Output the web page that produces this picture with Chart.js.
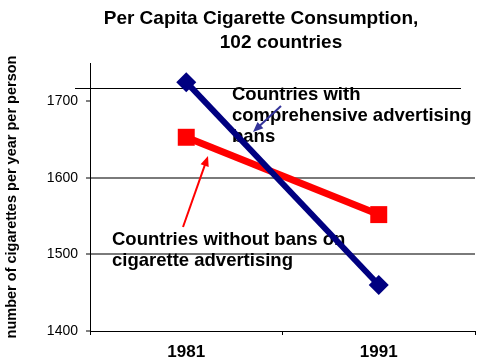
<!DOCTYPE html>
<html>
<head>
<meta charset="utf-8">
<script src="https://cdn.jsdelivr.net/npm/chart.js@4.4.0/dist/chart.umd.min.js"></script>
<style>
  html, body { margin: 0; padding: 0; background: #fff; }
  #wrap { width: 480px; height: 364px; }
</style>
</head>
<body>
<div id="wrap"><canvas id="chart"></canvas></div>
<script>
const years = ["1981", "1991"];
const withBans = [1725, 1460];
const withoutBans = [1653, 1552];
const yTicks = [1400, 1500, 1600, 1700];
const gridValues = [1500, 1600];
const strayLineValue = 1718;

const titleLines = ["Per Capita Cigarette Consumption,", "102 countries"];
const yTitle = "number of cigarettes per year per person";
const bansLabel = ["Countries with", "comprehensive advertising", "bans"];
const noBansLabel = ["Countries without bans on", "cigarette advertising"];

Chart.defaults.font.family = "'Liberation Sans', Arial, sans-serif";
Chart.defaults.color = "#000";

function arrow(ctx, x1, y1, x2, y2, color) {
  const a = Math.atan2(y2 - y1, x2 - x1);
  const head = 11;
  ctx.strokeStyle = color;
  ctx.fillStyle = color;
  ctx.lineWidth = 2;
  ctx.beginPath();
  ctx.moveTo(x1, y1);
  ctx.lineTo(x2 - Math.cos(a) * head * 0.8, y2 - Math.sin(a) * head * 0.8);
  ctx.stroke();
  ctx.beginPath();
  ctx.moveTo(x2, y2);
  ctx.lineTo(x2 - head * Math.cos(a - 0.4), y2 - head * Math.sin(a - 0.4));
  ctx.lineTo(x2 - head * Math.cos(a + 0.4), y2 - head * Math.sin(a + 0.4));
  ctx.closePath();
  ctx.fill();
}

// title, stray line, labels and arrows (under the lines)
const extras = {
  id: "extras",
  beforeDatasetsDraw(chart) {
    const ctx = chart.ctx;
    const area = chart.chartArea;
    const y = chart.scales.y;
    ctx.save();

    ctx.textAlign = "center";
    ctx.textBaseline = "alphabetic";
    ctx.font = "bold 19px 'Liberation Sans', Arial, sans-serif";
    ctx.fillText(titleLines[0], 261, 24);
    ctx.fillText(titleLines[1], 281, 48);

    const sy = Math.round(y.getPixelForValue(strayLineValue)) + 0.5;
    ctx.strokeStyle = "#000";
    ctx.lineWidth = 1;
    ctx.beginPath();
    ctx.moveTo(area.left - 15, sy);
    ctx.lineTo(area.right - 14, sy);
    ctx.stroke();

    ctx.textAlign = "left";
    ctx.font = "bold 18.5px 'Liberation Sans', Arial, sans-serif";
    bansLabel.forEach((t, i) => ctx.fillText(t, 232, 100 + i * 21));
    noBansLabel.forEach((t, i) => ctx.fillText(t, 112, 245 + i * 21));

    arrow(ctx, 281, 106, 253, 132, "#333399");
    arrow(ctx, 183, 227, 208, 156, "#ff0000");
    ctx.restore();
  },
};

new Chart("chart", {
  type: "line",
  data: {
    labels: years,
    datasets: [
      {
        label: "With bans",
        data: withBans,
        borderColor: "#000080",
        backgroundColor: "#000080",
        borderWidth: 6,
        pointStyle: "rectRot",
        pointRadius: 10,
        pointBorderWidth: 0,
      },
      {
        label: "Without bans",
        data: withoutBans,
        borderColor: "#ff0000",
        backgroundColor: "#ff0000",
        borderWidth: 7,
        pointStyle: "rect",
        pointRadius: 12,
        pointBorderWidth: 0,
      },
    ],
  },
  options: {
    responsive: true,
    maintainAspectRatio: false,
    animation: false,
    layout: { autoPadding: false, padding: { top: 63, right: 5, left: 0, bottom: 0 } },
    plugins: {
      legend: { display: false },
      tooltip: { enabled: false },
    },
    scales: {
      x: {
        offset: true,
        grid: {
          offset: true,
          drawOnChartArea: false,
          tickLength: 4,
          tickColor: "#000",
        },
        border: { color: "#000", width: 1 },
        ticks: { padding: 0, font: { size: 17, weight: "bold", lineHeight: 2 } },
        afterFit(scale) {
          scale.height = 33;
        },
      },
      y: {
        min: 1400,
        max: 1750,
        border: { color: "#000", width: 1 },
        grid: {
          color: (c) => (gridValues.includes(c.tick && c.tick.value) ? "#7a7a7a" : "rgba(0,0,0,0)"),
          lineWidth: 2,
          tickLength: 4,
          tickColor: "#000",
          tickWidth: 1,
        },
        ticks: {
          padding: 8,
          font: { size: 14 },
          callback: (v) => String(v),
        },
        title: {
          display: true,
          text: yTitle,
          font: { size: 14.5, weight: "bold" },
          padding: { top: 3, bottom: 0 },
        },
        afterBuildTicks(scale) {
          scale.ticks = yTicks.map((v) => ({ value: v }));
        },
        afterFit(scale) {
          scale.width = 90;
        },
      },
    },
  },
  plugins: [extras],
});
</script>
</body>
</html>
